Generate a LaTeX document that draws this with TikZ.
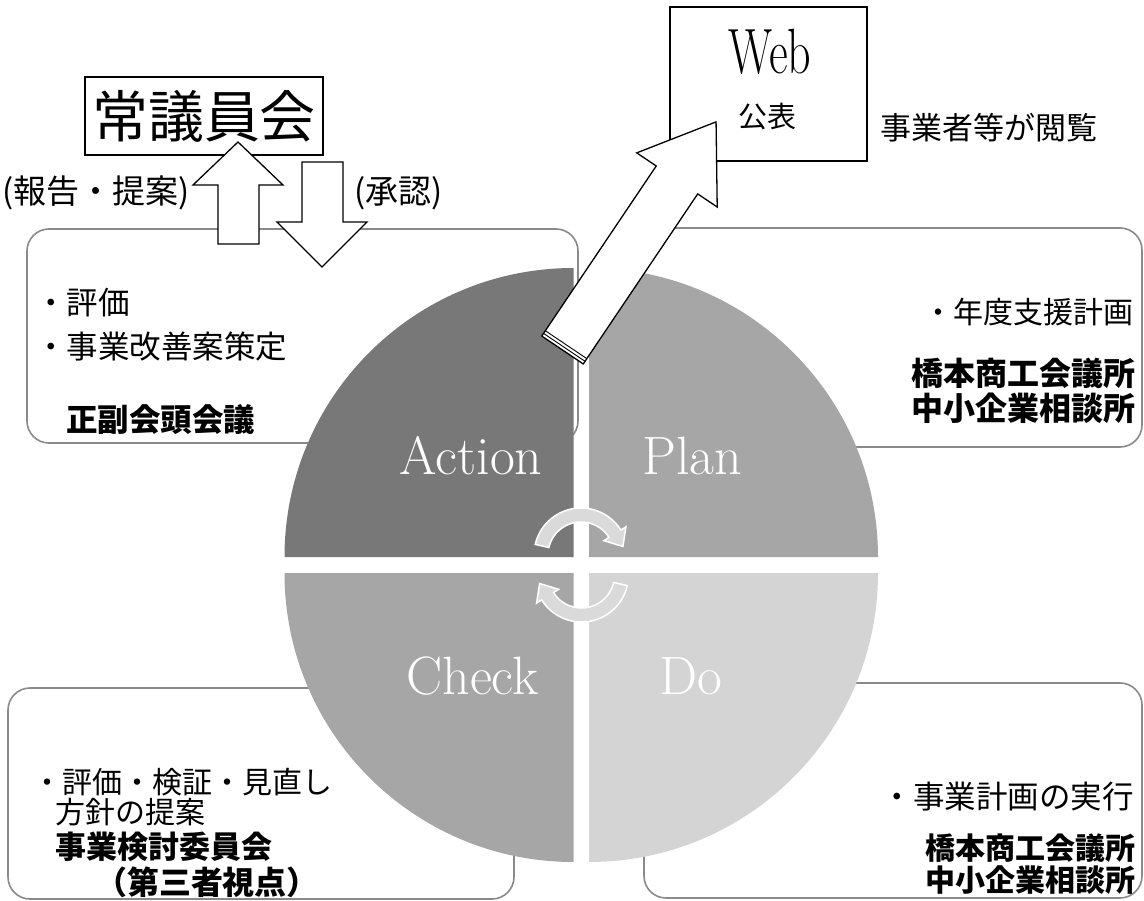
\documentclass[tikz,border=0pt]{standalone}
\usepackage{fontspec}
\usepackage{graphicx}
\newfontfamily\jp{Noto Sans CJK JP}
\definecolor{boxgray}{RGB}{138,138,138}
\definecolor{qA}{RGB}{120,120,120}
\definecolor{qP}{RGB}{166,166,166}
\definecolor{qC}{RGB}{166,166,166}
\definecolor{qD}{RGB}{212,212,212}
\definecolor{cyc}{RGB}{218,218,218}
\begin{document}
\begin{tikzpicture}[x=1pt,y=-1pt,
  infobox/.style={draw=boxgray, line width=1.6pt, rounded corners=22pt, fill=white},
  blockarrow/.style={draw=black, fill=white, line width=1.3pt, line join=miter},
  cyclearrow/.style={fill=cyc, draw=white, line width=1.5pt, line join=miter},
  qlabel/.style={text=white, font=\fontsize{54}{60}\selectfont, anchor=base, inner sep=0pt},
  jreg/.style={font=\jp\fontsize{#1}{#1}\selectfont, inner sep=0pt},
  jbold/.style={font=\jp\bfseries\fontsize{#1}{#1}\selectfont, inner sep=0pt}
]
\useasboundingbox[fill=white] (0,0) rectangle (1144,901);

% info boxes
\draw[infobox] (27,229) rectangle (578,443);
\draw[infobox] (605,228) rectangle (1142,447);
\draw[infobox] (8,688) rectangle (514,899);
\draw[infobox] (644,683) rectangle (1142,898);

% quadrants
\fill[qA] (573.5,557) -- (284.5,557) arc[start angle=180, end angle=270, radius=289] -- cycle;
\fill[qP] (589,557) -- (589,268) arc[start angle=270, end angle=360, radius=289] -- cycle;
\fill[qD] (589,573) -- (878,573) arc[start angle=0, end angle=90, radius=289] -- cycle;
\fill[qC] (573.5,573) -- (573.5,862) arc[start angle=90, end angle=180, radius=289] -- cycle;

\node[qlabel] (lblA) at (471,474) {Action};
\node[qlabel] (lblP) at (692,474) {Plan};
\node[qlabel] (lblC) at (472.5,694) {Check};
\node[qlabel] (lblD) at (691,694) {Do};

% cycle arrows
\path[cyclearrow] (535.2,544.4) arc[start angle=-167, end angle=-32, radius=47]
  -- (625.9,526.9) -- (622.9,546.5) -- (603.9,540.7) -- (609.0,537.5)
  arc[start angle=-32, end angle=-167, radius=33] -- cycle;
\begin{scope}[rotate around={180:(581.25,565)}]
\path[cyclearrow] (535.2,544.4) arc[start angle=-167, end angle=-32, radius=47]
  -- (625.9,526.9) -- (622.9,546.5) -- (603.9,540.7) -- (609.0,537.5)
  arc[start angle=-32, end angle=-167, radius=33] -- cycle;
\end{scope}

% texts in boxes
\node[jreg=31.5, anchor=west] (a1) at (35,303) {・評価};
\node[jreg=31.5, anchor=west] (a2) at (35,347) {・事業改善案策定};
\node[jbold=31.5, anchor=west] (a3) at (66,420) {正副会頭会議};

\node[jreg=30, anchor=east] (p1) at (1134,312) {・年度支援計画};
\node[jbold=32, anchor=east] (p2) at (1136,373) {橋本商工会議所};
\node[jbold=32, anchor=east] (p3) at (1136,408) {中小企業相談所};

\node[jreg=30, anchor=west] (c1) at (32,782) {・評価・検証・見直し};
\node[jreg=30, anchor=west] (c2) at (55,812) {方針の提案};
\node[jbold=31, anchor=west] (c3) at (55,847) {事業検討委員会};
\node[jbold=32] (c4) at (207,882) {（第三者視点）};

\node[jreg=31.5, anchor=east] (d1) at (1134,797) {・事業計画の実行};
\node[jbold=30, anchor=east] (d2) at (1136,848) {橋本商工会議所};
\node[jbold=30, anchor=east] (d3) at (1136,880) {中小企業相談所};

% council box and arrows
\node[draw=black, line width=1.5pt, minimum width=238pt, minimum height=78pt, inner sep=0pt] (council) at (204,116) {};
\node[jreg=56] (counciltxt) at (204,116) {常議員会};
\node[jreg=33, anchor=west] (report) at (2,193) {(報告・提案)};
\node[jreg=33, anchor=west] (approve) at (354,193) {(承認)};
\draw[blockarrow] (218,244) -- (218,185) -- (193,185) -- (238,142) -- (283,185) -- (259,185) -- (259,244) -- cycle;
\draw[blockarrow] (302,162) -- (343,162) -- (343,222) -- (367,222) -- (322,267) -- (277,222) -- (302,222) -- cycle;

% web box
\node[draw=black, line width=1.2pt, minimum width=197pt, minimum height=154pt, inner sep=0pt] (web) at (768.5,84) {};
\node[inner sep=0pt] (webtxt) at (770,52) {\scalebox{0.72}[1]{\fontsize{64}{64}\selectfont Web}};
\node[jreg=29] (pub) at (767,117) {公表};
\node[jreg=31, anchor=west] (view) at (880,128) {事業者等が閲覧};

% web arrow
\begin{scope}[shift={(562.5,350)}, rotate=56.05]
\draw[blockarrow] (0,-25) -- (205,-25) -- (205,-48.5) -- (275,0) -- (205,48.5) -- (205,25) -- (0,25) -- cycle;
\draw[line width=0.9pt] (3.2,-25) -- (3.2,25) (6.4,-25) -- (6.4,25);
\end{scope}
\end{tikzpicture}
\end{document}
